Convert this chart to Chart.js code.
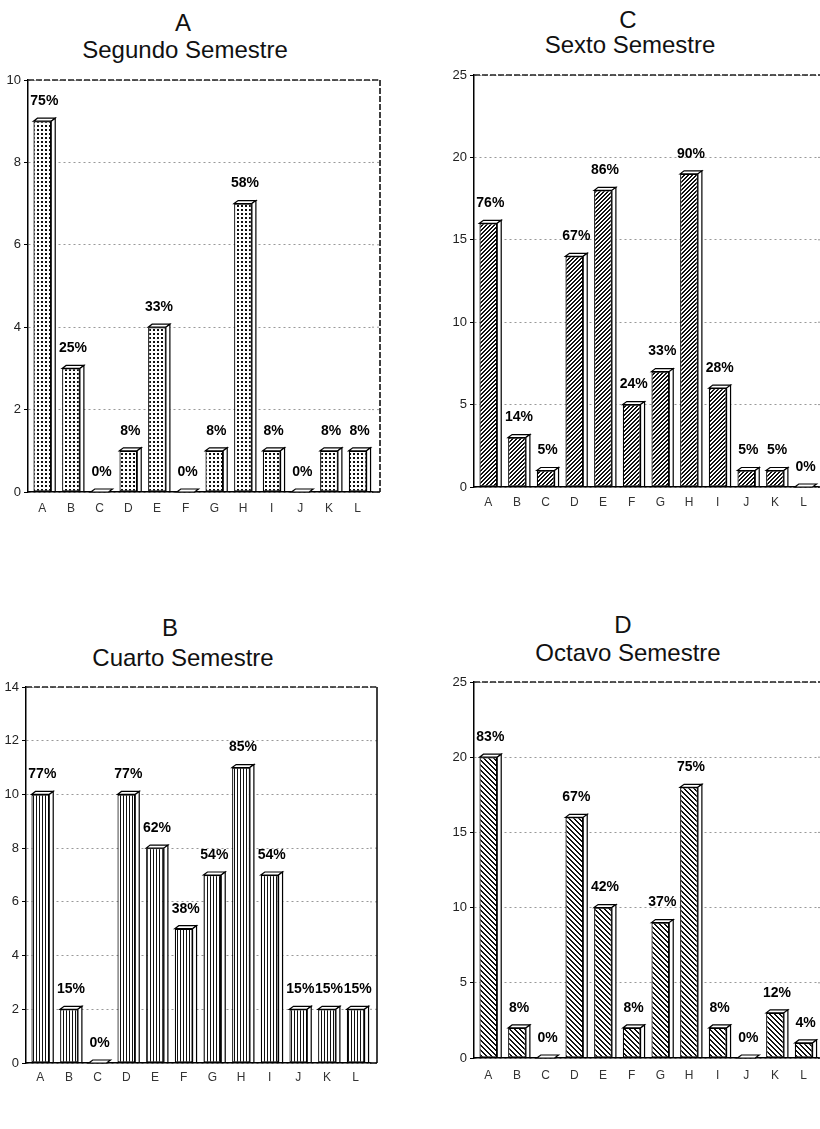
<!DOCTYPE html>
<html>
<head>
<meta charset="utf-8">
<script src="https://cdn.jsdelivr.net/npm/chart.js@4"></script>
<style>
  body { margin:0; background:#fff; width:820px; height:1129px; position:relative; overflow:hidden; font-family:"Liberation Sans", Arial, sans-serif; }
  canvas { position:absolute; }
  .ttl { position:absolute; width:300px; text-align:center; font-size:24px; color:#111; line-height:1; }
</style>
</head>
<body>
<div class="ttl" style="left:33px;top:11px">A</div>
<div class="ttl" style="left:35px;top:38px">Segundo Semestre</div>
<div class="ttl" style="left:478px;top:8px">C</div>
<div class="ttl" style="left:480px;top:33px">Sexto Semestre</div>
<div class="ttl" style="left:20px;top:616px">B</div>
<div class="ttl" style="left:33px;top:646px">Cuarto Semestre</div>
<div class="ttl" style="left:473px;top:613px">D</div>
<div class="ttl" style="left:478px;top:641px">Octavo Semestre</div>

<canvas id="chartA" width="392" height="462" style="left:0;top:68px"></canvas>
<canvas id="chartC" width="380" height="467" style="left:440px;top:63px"></canvas>
<canvas id="chartB" width="390" height="454" style="left:0;top:675px"></canvas>
<canvas id="chartD" width="380" height="459" style="left:440px;top:670px"></canvas>

<script>
const categories = ['A','B','C','D','E','F','G','H','I','J','K','L'];

// A - Segundo Semestre
const segundoValues = [9, 3, 0, 1, 4, 0, 1, 7, 1, 0, 1, 1];
const segundoPct = ['75%','25%','0%','8%','33%','0%','8%','58%','8%','0%','8%','8%'];
const segundoMax = 10, segundoStep = 2;

// B - Cuarto Semestre
const cuartoValues = [10, 2, 0, 10, 8, 5, 7, 11, 7, 2, 2, 2];
const cuartoPct = ['77%','15%','0%','77%','62%','38%','54%','85%','54%','15%','15%','15%'];
const cuartoMax = 14, cuartoStep = 2;

// C - Sexto Semestre
const sextoValues = [16, 3, 1, 14, 18, 5, 7, 19, 6, 1, 1, 0];
const sextoPct = ['76%','14%','5%','67%','86%','24%','33%','90%','28%','5%','5%','0%'];
const sextoMax = 25, sextoStep = 5;

// D - Octavo Semestre
const octavoValues = [20, 2, 0, 16, 10, 2, 9, 18, 2, 0, 3, 1];
const octavoPct = ['83%','8%','0%','67%','42%','8%','37%','75%','8%','0%','12%','4%'];
const octavoMax = 25, octavoStep = 5;

const DX = 4, DY = 3, GAP = 17;
const FONT = '"Liberation Sans", Arial, sans-serif';

function tile(w, h, draw) {
  const c = document.createElement('canvas');
  c.width = w; c.height = h;
  const g = c.getContext('2d');
  g.fillStyle = '#fff'; g.fillRect(0, 0, w, h);
  g.fillStyle = '#111';
  draw(g);
  return g.createPattern(c, 'repeat');
}
const dots = tile(4, 4, g => g.fillRect(1, 1, 2, 2));
const vlines = tile(3, 1, g => g.fillRect(0, 0, 1, 1));
const slash = tile(4, 4, g => { for (let i = 0; i < 4; i++) { g.fillRect(i, 3 - i, 1, 1); g.fillRect((i + 1) % 4, 3 - i, 1, 1); } });
const backslash = tile(5, 5, g => { for (let i = 0; i < 5; i++) { g.fillRect(i, i, 1, 1); g.fillRect((i + 1) % 5, i, 1, 1); } });

// 3d cap + side of every bar, and the percent text above
const bar3d = {
  id: 'bar3d',
  afterDatasetsDraw(chart) {
    const { ctx } = chart;
    const meta = chart.getDatasetMeta(0);
    const txt = chart.data.datasets[0].pct;
    ctx.save();
    ctx.lineWidth = 1.2;
    ctx.strokeStyle = '#000';
    meta.data.forEach((bar, i) => {
      const p = bar.getProps(['x', 'y', 'base', 'width'], true);
      const l = p.x - p.width / 2, r = p.x + p.width / 2;
      const t = Math.min(p.y, p.base), b = p.base;
      ctx.fillStyle = '#fff';
      ctx.beginPath();
      ctx.moveTo(l, t); ctx.lineTo(l + DX, t - DY); ctx.lineTo(r + DX, t - DY); ctx.lineTo(r, t);
      ctx.closePath(); ctx.fill(); ctx.stroke();
      if (b - t > 0.5) {
        ctx.beginPath();
        ctx.moveTo(r, t); ctx.lineTo(r + DX, t - DY); ctx.lineTo(r + DX, b); ctx.lineTo(r, b);
        ctx.closePath(); ctx.fill(); ctx.stroke();
      }
      ctx.fillStyle = '#000';
      ctx.font = 'bold 14px ' + FONT;
      ctx.textAlign = 'center';
      ctx.textBaseline = 'middle';
      ctx.fillText(txt[i], p.x + DX / 2, t - DY - GAP);
    });
    ctx.restore();
  }
};

// dashed top edge and the right edge of the plot box
const frame = {
  id: 'frame',
  afterDraw(chart, args, o) {
    const { ctx, chartArea: a } = chart;
    const right = a.right + o.extra;
    ctx.save();
    ctx.strokeStyle = '#999';
    ctx.lineWidth = 1;
    ctx.setLineDash([2, 3]);
    chart.scales.y.ticks.forEach(tk => {
      const y = chart.scales.y.getPixelForValue(tk.value);
      ctx.beginPath(); ctx.moveTo(a.right, y); ctx.lineTo(right, y); ctx.stroke();
    });
    ctx.strokeStyle = '#222';
    ctx.lineWidth = 1.3;
    ctx.setLineDash([6, 2]);
    ctx.beginPath(); ctx.moveTo(a.left, a.top); ctx.lineTo(right, a.top); ctx.stroke();
    ctx.setLineDash([]);
    ctx.lineWidth = 1.5;
    ctx.strokeStyle = '#000';
    ctx.beginPath(); ctx.moveTo(a.right, a.bottom); ctx.lineTo(right, a.bottom); ctx.stroke();
    if (o.side !== 'none') {
      if (o.side === 'dashed') ctx.setLineDash([6, 2]);
      ctx.beginPath(); ctx.moveTo(right, a.top); ctx.lineTo(right, a.bottom); ctx.stroke();
    }
    ctx.restore();
  }
};

function makeChart(id, values, pct, max, step, fill, g) {
  return new Chart(document.getElementById(id), {
    type: 'bar',
    data: {
      labels: categories,
      datasets: [{
        data: values,
        pct: pct,
        backgroundColor: fill,
        borderColor: '#000',
        borderWidth: 1.2,
        borderSkipped: false,
        barPercentage: 0.62,
        categoryPercentage: 1,
      }]
    },
    options: {
      responsive: false,
      animation: false,
      layout: { padding: { top: 12, right: g.rpad, left: 0, bottom: 0 } },
      plugins: {
        legend: { display: false },
        tooltip: { enabled: false },
        frame: { extra: g.extra, side: g.side },
      },
      scales: {
        x: {
          grid: { display: false, drawTicks: false },
          border: { display: true, color: '#000', width: 1.5 },
          ticks: { color: '#333', font: { family: FONT, size: 12 }, padding: g.xpad },
          afterFit: s => { s.height = g.xh; },
        },
        y: {
          min: 0,
          max: max,
          grid: { color: '#999', lineWidth: 1, drawTicks: true, tickLength: 4, tickColor: '#000', tickWidth: 1 },
          border: { display: true, color: '#000', width: 1.5, dash: [2, 3] },
          ticks: { stepSize: step, color: '#222', font: { family: FONT, size: 13 }, padding: 3 },
          afterFit: s => { s.width = g.yw; },
        }
      }
    },
    plugins: [bar3d, frame],
  });
}

makeChart('chartA', segundoValues, segundoPct, segundoMax, segundoStep, dots,
  { yw: 28, rpad: 20, xh: 38, xpad: 9, extra: 8, side: 'dashed' });
makeChart('chartC', sextoValues, sextoPct, sextoMax, sextoStep, slash,
  { yw: 34, rpad: 2, xh: 43, xpad: 8, extra: 2, side: 'none' });
makeChart('chartB', cuartoValues, cuartoPct, cuartoMax, cuartoStep, vlines,
  { yw: 26, rpad: 20, xh: 66, xpad: 7, extra: 7, side: 'solid' });
makeChart('chartD', octavoValues, octavoPct, octavoMax, octavoStep, backslash,
  { yw: 34, rpad: 2, xh: 71, xpad: 10, extra: 2, side: 'none' });
</script>
</body>
</html>
